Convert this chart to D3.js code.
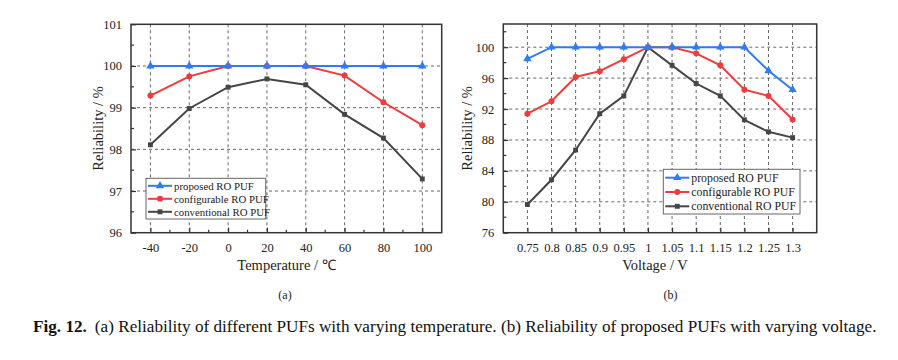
<!DOCTYPE html>
<html><head><meta charset="utf-8">
<script src="https://cdn.jsdelivr.net/npm/d3@7"></script>
<style>body{margin:0;background:#fff}svg{display:block}</style>
</head><body>
<svg id="c" width="898" height="360"></svg>
<script>
// ---- data (a) ----
const temps = [-40, -20, 0, 20, 40, 60, 80, 100];
const tempProposed = [100, 100, 100, 100, 100, 100, 100, 100];
const tempConfigurable = [99.29, 99.75, 100, 100, 100, 99.77, 99.13, 98.58];
const tempConventional = [98.11, 98.98, 99.49, 99.69, 99.55, 98.84, 98.27, 97.29];
const tempYTicks = [96, 97, 98, 99, 100, 101];
// ---- data (b) ----
const volts = [0.75, 0.8, 0.85, 0.9, 0.95, 1, 1.05, 1.1, 1.15, 1.2, 1.25, 1.3];
const voltLabels = ["0.75","0.8","0.85","0.9","0.95","1","1.05","1.1","1.15","1.2","1.25","1.3"];
const voltProposed = [98.5, 100, 100, 100, 100, 100, 100, 100, 100, 100, 96.95, 94.5];
const voltConfigurable = [91.4, 93.0, 96.15, 96.9, 98.45, 100, 100, 99.2, 97.65, 94.5, 93.7, 90.65];
const voltConventional = [79.65, 82.85, 86.7, 91.4, 93.7, 100, 97.65, 95.3, 93.7, 90.6, 89.05, 88.3];
const voltYTicks = [76, 80, 84, 88, 92, 96, 100];
const seriesNames = ["proposed RO PUF", "configurable RO PUF", "conventional RO PUF"];
const colors = ["#2f7cf0", "#f23a3a", "#454545"];
const shapes = [d3.symbolTriangle, d3.symbolCircle, d3.symbolSquare];
const shapeSizes = [30, 28, 24];

const svg = d3.select("#c");
const FONT = "'Liberation Serif', 'Times New Roman', serif";

function panel(opt) {
  const g = svg.append("g");
  const x = d3.scaleLinear().domain(opt.xDomain).range([opt.left, opt.right]);
  const y = d3.scaleLinear().domain(opt.yDomain).range([opt.bottom, opt.top]);
  // grid
  g.selectAll(".gx").data(opt.xTicks).enter().append("line")
    .attr("x1", d => x(d)).attr("x2", d => x(d)).attr("y1", opt.top).attr("y2", opt.bottom)
    .attr("stroke", "#666").attr("stroke-width", 1).attr("stroke-dasharray", "3,3");
  g.selectAll(".gy").data(opt.yTicks.filter(v => v > opt.yDomain[0] && v < opt.yDomain[1])).enter().append("line")
    .attr("x1", opt.left).attr("x2", opt.right).attr("y1", d => y(d)).attr("y2", d => y(d))
    .attr("stroke", "#666").attr("stroke-width", 1).attr("stroke-dasharray", "3,3");
  // axes
  const ax = d3.axisBottom(x).tickValues(opt.xTicks).tickSize(-5).tickPadding(10)
    .tickFormat((d, i) => opt.xLabels ? opt.xLabels[i] : String(d));
  const xa = g.append("g").attr("transform", `translate(0,${opt.bottom})`).call(ax);
  const ay = d3.axisLeft(y).tickValues(opt.yTicks).tickSize(-5).tickPadding(9).tickFormat(d => String(d));
  const ya = g.append("g").attr("transform", `translate(${opt.left},0)`).call(ay);
  [xa, ya].forEach(a => {
    a.attr("font-family", null).attr("font-size", null);
    a.select(".domain").remove();
    a.selectAll("line").attr("stroke", "#333").attr("stroke-width", 1.2);
    a.selectAll("text").style("font-family", FONT).style("font-size", "12.5px").attr("fill", "#222");
  });
  // minor ticks
  if (opt.xMinor) g.selectAll(".mx").data(opt.xMinor).enter().append("line")
    .attr("x1", d => x(d)).attr("x2", d => x(d)).attr("y1", opt.bottom).attr("y2", opt.bottom - 3)
    .attr("stroke", "#333").attr("stroke-width", 1.2);
  if (opt.yMinor) g.selectAll(".my").data(opt.yMinor).enter().append("line")
    .attr("y1", d => y(d)).attr("y2", d => y(d)).attr("x1", opt.left).attr("x2", opt.left + 3)
    .attr("stroke", "#333").attr("stroke-width", 1.2);
  // frame
  g.append("rect").attr("x", opt.left).attr("y", opt.top)
    .attr("width", opt.right - opt.left).attr("height", opt.bottom - opt.top)
    .attr("fill", "none").attr("stroke", "#333").attr("stroke-width", 1.5);
  // series
  opt.series.forEach((vals, si) => {
    const ci = opt.order[si];
    const pts = opt.xVals.map((xv, i) => [x(xv), y(vals[i])]);
    g.append("path").attr("d", d3.line()(pts)).attr("fill", "none")
      .attr("stroke", colors[ci]).attr("stroke-width", 2);
    g.selectAll(null).data(pts).enter().append("path")
      .attr("d", d3.symbol(shapes[ci], shapeSizes[ci]))
      .attr("transform", d => `translate(${d[0]},${d[1]})`).attr("fill", colors[ci]);
  });
  // legend
  const L = opt.legend;
  const lg = g.append("g");
  lg.append("rect").attr("x", L.x).attr("y", L.y).attr("width", L.w).attr("height", L.h)
    .attr("fill", "#fff").attr("stroke", "#666").attr("stroke-width", 1);
  seriesNames.forEach((nm, i) => {
    const yy = L.y + L.pad + i * L.step;
    lg.append("line").attr("x1", L.x + 2).attr("x2", L.x + 26).attr("y1", yy).attr("y2", yy)
      .attr("stroke", colors[i]).attr("stroke-width", 2);
    lg.append("path").attr("d", d3.symbol(shapes[i], shapeSizes[i])())
      .attr("transform", `translate(${L.x + 14},${yy})`).attr("fill", colors[i]);
    lg.append("text").attr("x", L.x + 28).attr("y", yy + 4).text(nm)
      .style("font-family", FONT).style("font-size", L.fs + "px").attr("fill", "#222");
  });
  // titles
  g.append("text").attr("transform", `translate(${opt.yTitleX},${(opt.top + opt.bottom) / 2}) rotate(-90)`)
    .attr("text-anchor", "middle").style("font-family", FONT).style("font-size", "14.5px").attr("fill", "#222")
    .text("Reliability / %");
  g.append("text").attr("x", opt.xTitleX).attr("y", 270).attr("text-anchor", "middle")
    .style("font-family", FONT).style("font-size", "14.5px").attr("fill", "#222").text(opt.xTitle);
  g.append("text").attr("x", opt.subX).attr("y", 299).attr("text-anchor", "middle")
    .style("font-family", FONT).style("font-size", "12px").attr("fill", "#222").text(opt.sub);
}

panel({
  left: 131, right: 441.7, top: 24.3, bottom: 232.7,
  xDomain: [-50, 110], yDomain: [96, 101],
  xTicks: temps, yTicks: tempYTicks,
  xMinor: [-30, -10, 10, 30, 50, 70, 90], yMinor: [96.5, 97.5, 98.5, 99.5, 100.5],
  xVals: temps, series: [tempConventional, tempConfigurable, tempProposed], order: [2, 1, 0],
  legend: { x: 146, y: 178.3, w: 119.7, h: 40.7, pad: 7.5, step: 13, fs: 10.8 },
  yTitleX: 103, xTitle: "Temperature / \u2103", xTitleX: 286.5, sub: "(a)", subX: 285
});
panel({
  left: 503.3, right: 816.7, top: 24, bottom: 232.7,
  xDomain: [0.70, 1.35], yDomain: [76, 103],
  xTicks: volts, xLabels: voltLabels, yTicks: voltYTicks,
  xMinor: null, yMinor: [78, 82, 86, 90, 94, 98, 102],
  xVals: volts, series: [voltConventional, voltConfigurable, voltProposed], order: [2, 1, 0],
  legend: { x: 663.3, y: 169.3, w: 136.7, h: 44.7, pad: 8.4, step: 14.3, fs: 11.8 },
  yTitleX: 472, xTitle: "Voltage / V", xTitleX: 655, sub: "(b)", subX: 670.5
});

// caption
const cap = svg.append("text").attr("x", 33).attr("y", 332)
  .style("font-family", "'Liberation Serif', serif").style("font-size", "15px").attr("fill", "#111");
cap.append("tspan").attr("font-weight", "bold").text("Fig. 12.");
cap.append("tspan").attr("dx", 8).text("(a) Reliability of different PUFs with varying temperature. (b) Reliability of proposed PUFs with varying voltage.");
const w = cap.node().getComputedTextLength();
cap.style("font-size", (15 * 836 / w) + "px");
</script>
</body></html>
